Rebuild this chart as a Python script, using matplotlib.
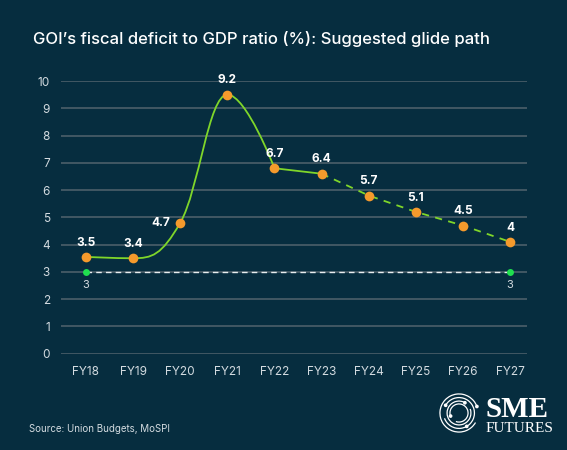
import numpy as np
import matplotlib.pyplot as plt
from matplotlib.path import Path
from matplotlib.patches import PathPatch, Arc, Circle

# -------------------------------------------------
# DATA
# -------------------------------------------------

years = ["FY18", "FY19", "FY20", "FY21", "FY22",
         "FY23", "FY24", "FY25", "FY26", "FY27"]

# plotted positions of the markers (as drawn in the source)
deficit = [3.55, 3.5, 4.8, 9.5, 6.8, 6.6, 5.8, 5.2, 4.7, 4.1]

# printed value labels
deficit_labels = ["3.5", "3.4", "4.7", "9.2", "6.7",
                  "6.4", "5.7", "5.1", "4.5", "4"]

# smooth actuals up to FY22, straight path after, dashed from FY23
last_smooth = "FY22"
last_solid = "FY23"

target_years = ["FY18", "FY27"]
target = [3, 3]

# -------------------------------------------------
# STYLE
# -------------------------------------------------

bg = "#062d3f"
grid_col = "#4b5f6a"
tick_col = "#d3dbe0"
line_col = "#7fd62a"
marker_col = "#f59a2c"
target_col = "#1fe04f"

plt.rcParams["font.family"] = ["Inter", "DejaVu Sans"]


def spline_controls(xs, ys, smoothing=1.5):
    # smooth curve control points, flattened at local extremes
    n = len(xs)
    left = [(xs[i], ys[i]) for i in range(n)]
    right = [(xs[i], ys[i]) for i in range(n)]
    d = smoothing + 1
    for i in range(1, n - 1):
        lx, ly = xs[i - 1], ys[i - 1]
        px, py = xs[i], ys[i]
        nx, ny = xs[i + 1], ys[i + 1]
        lcx = (smoothing * px + lx) / d
        lcy = (smoothing * py + ly) / d
        rcx = (smoothing * px + nx) / d
        rcy = (smoothing * py + ny) / d
        corr = (rcy - lcy) * (rcx - px) / (rcx - lcx) + py - rcy
        lcy += corr
        rcy += corr
        if lcy > ly and lcy > py:
            lcy = max(ly, py)
            rcy = 2 * py - lcy
        elif lcy < ly and lcy < py:
            lcy = min(ly, py)
            rcy = 2 * py - lcy
        if rcy > ny and rcy > py:
            rcy = max(ny, py)
            lcy = 2 * py - rcy
        elif rcy < ny and rcy < py:
            rcy = min(ny, py)
            lcy = 2 * py - rcy
        left[i] = (lcx, lcy)
        right[i] = (rcx, rcy)
    return left, right


def curve_path(xs, ys):
    left, right = spline_controls(list(xs), list(ys))
    verts = [(xs[0], ys[0])]
    codes = [Path.MOVETO]
    for i in range(1, len(xs)):
        verts += [right[i - 1], left[i], (xs[i], ys[i])]
        codes += [Path.CURVE4] * 3
    return Path(verts, codes)


# -------------------------------------------------
# FIGURE
# -------------------------------------------------

fig = plt.figure(figsize=(5.67, 4.5), dpi=100, facecolor=bg)
ax = fig.add_axes([0.1076, 0.214, 0.822, 0.606])
ax.set_facecolor(bg)

x = np.arange(len(years))
k1 = years.index(last_smooth)
k2 = years.index(last_solid)

smooth = curve_path(x[:k1 + 1], deficit[:k1 + 1])
ax.add_patch(PathPatch(smooth, facecolor="none", edgecolor=line_col,
                       lw=1.3, zorder=3))
ax.plot(x[k1:k2 + 1], deficit[k1:k2 + 1], color=line_col, lw=1.3, zorder=3)
ax.plot(x[k2:], deficit[k2:], color=line_col, lw=1.3,
        linestyle=(0, (4, 3.5)), zorder=3)

ax.plot(x, deficit, "o", color=marker_col, markersize=7,
        markeredgewidth=0, zorder=5, clip_on=False)

# target line
tx = [years.index(t) for t in target_years]
ax.plot(tx, target, color="#e8eef0", lw=1.0,
        linestyle=(0, (4, 3)), zorder=2)
ax.plot(tx, target, "o", color=target_col, markersize=5,
        markeredgewidth=0, zorder=4)

for xi, yi in zip(tx, target):
    ax.annotate(str(yi), (xi, yi), xytext=(0, -6),
                textcoords="offset points", ha="center", va="top",
                color=tick_col, fontsize=8)

# value labels
for i, (yi, lab) in enumerate(zip(deficit, deficit_labels)):
    if years[i] == "FY20":
        ax.annotate(lab, (i, yi), xytext=(-7, 0),
                    textcoords="offset points", ha="right", va="center",
                    color="white", fontsize=8.5, fontweight="bold")
    else:
        ax.annotate(lab, (i, yi), xytext=(0, 6),
                    textcoords="offset points", ha="center", va="bottom",
                    color="white", fontsize=8.5, fontweight="bold")

ax.set_xlim(-0.53, 9.36)
ax.set_ylim(0, 10)
ax.set_yticks(range(0, 11))
ax.set_xticks(x)
ax.set_xticklabels(years)

ax.grid(axis="y", color=grid_col, lw=1.2, zorder=0)
ax.set_axisbelow(True)
for s in ax.spines.values():
    s.set_visible(False)
ax.tick_params(axis="both", length=0, colors=tick_col, labelsize=8.5)
ax.tick_params(axis="x", pad=9)
ax.tick_params(axis="y", pad=8)

# -------------------------------------------------
# TITLE, SOURCE, LOGO
# -------------------------------------------------

fig.text(0.058, 0.913, "GOI\u2019s fiscal deficit to GDP ratio (%): Suggested glide path",
         color="white", fontsize=12.0, fontweight="medium",
         ha="left", va="center")

fig.text(0.052, 0.047, "Source: Union Budgets, MoSPI",
         color=tick_col, fontsize=7, ha="left", va="center")

fig.text(0.856, 0.091, "SME", color="white", fontsize=21,
         fontweight="bold", family=["Liberation Serif", "DejaVu Serif"],
         ha="left", va="center")
fig.text(0.857, 0.047, "FUTURES", color="white", fontsize=11,
         family=["Liberation Serif", "DejaVu Serif"],
         ha="left", va="center")

lg = fig.add_axes([439 / 567, 1 - 433 / 450, 40 / 567, 40 / 450])
lg.set_xlim(-1.05, 1.05)
lg.set_ylim(-1.05, 1.05)
lg.set_aspect("equal")
lg.axis("off")
rings = [(2.0, 20, 330), (1.62, 200, 150), (1.25, 60, 20), (0.95, 250, 200)]
for r, t1, t2 in rings:
    lg.add_patch(Arc((0, 0), r, r, theta1=t1, theta2=t2,
                     color="white", lw=0.9))
for ang, rad in [(20, 1.0), (150, 0.81), (60, 0.62), (200, 0.47), (300, 0.81)]:
    a = np.deg2rad(ang)
    lg.add_patch(Circle((rad * np.cos(a), rad * np.sin(a)), 0.06,
                        color="white"))

fig.savefig("out.png", dpi=100, facecolor=bg)
